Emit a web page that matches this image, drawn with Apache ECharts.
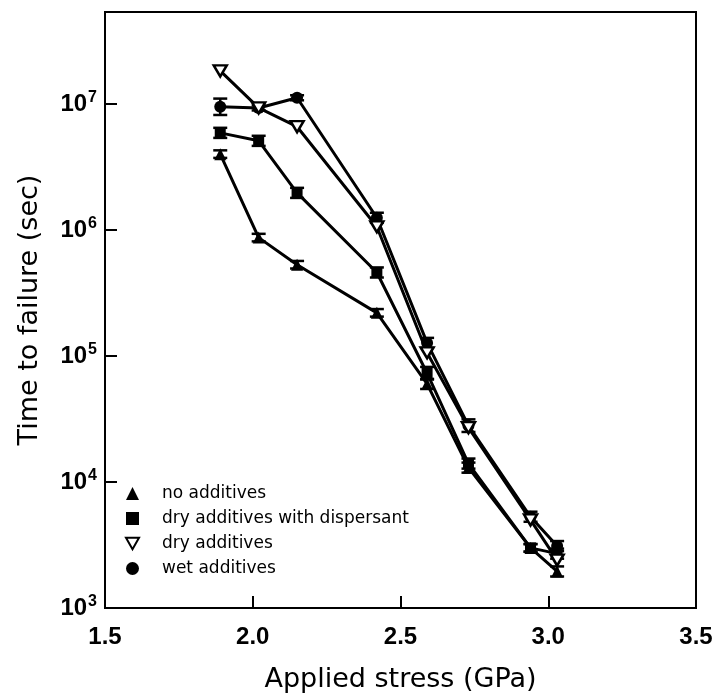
<!DOCTYPE html>
<html>
<head>
<meta charset="utf-8">
<title>Time to failure vs applied stress</title>
<script src="https://cdn.jsdelivr.net/npm/echarts@6/dist/echarts.min.js"></script>
<style>
    html, body { margin: 0; padding: 0; background: #fff; }
    #chart { width: 713px; height: 698px; }
</style>
</head>
<body>
<div id="chart"></div>
<script>
// 外加应力 (GPa)
var stress = [1.89, 2.02, 2.15, 2.42, 2.59, 2.73, 2.94, 3.03];

// 失效时间 (sec)
var noAdditives = [4.0e6, 8.7e5, 5.3e5, 2.2e5, 6.0e4, 1.3e4, 3.0e3, 1.95e3];
var dryDispersant = [5.9e6, 5.1e6, 1.97e6, 4.6e5, 7.3e4, 1.4e4, 3.0e3, 2.7e3];
var dryAdditives = [1.83e7, 9.3e6, 6.6e6, 1.06e6, 1.06e5, 2.7e4, 5.0e3, 2.4e3];
var wetAdditives = [9.5e6, 9.3e6, 1.12e7, 1.25e6, 1.27e5, 2.8e4, 5.3e3, 3.1e3];

// 误差棒半宽（log10 单位）
var noAdditivesErr = [0.03, 0.03, 0.03, 0.03, 0.04, 0.04, 0.03, 0.04];
var dryDispersantErr = [0.04, 0.04, 0.04, 0.04, 0.05, 0.04, 0.03, 0.04];
var dryAdditivesErr = [0, 0, 0, 0, 0, 0, 0, 0];
var wetAdditivesErr = [0.065, 0.02, 0.02, 0.04, 0.04, 0.05, 0.04, 0.04];

// y轴刻度（10的幂次）
var yExponents = [3, 4, 5, 6, 7];
var xTicks = ["1.5", "2.0", "2.5", "3.0", "3.5"];

var seriesNames = ["no additives", "dry additives with dispersant", "dry additives", "wet additives"];

var invTriangle = "path://M0,0 L12,0 L6,10.4 Z";
var wideFont = "DejaVu Sans";
var tickFont = "Liberation Sans";

// 转为 log10 坐标
function toLogPairs(values) {
    var out = [];
    for (var i = 0; i < values.length; i++) {
        out.push([stress[i], Math.log(values[i]) / Math.LN10]);
    }
    return out;
}

function toErrRows(values, errs) {
    var out = [];
    for (var i = 0; i < values.length; i++) {
        var ly = Math.log(values[i]) / Math.LN10;
        out.push([stress[i], ly - errs[i], ly + errs[i]]);
    }
    return out;
}

// 画误差棒（竖线 + 上下横帽）
function renderErr(params, api) {
    var lo = api.coord([api.value(0), api.value(1)]);
    var hi = api.coord([api.value(0), api.value(2)]);
    if (Math.abs(lo[1] - hi[1]) < 1) {
        return null;
    }
    var w = 7;
    var style = { stroke: "#000", lineWidth: 2.5 };
    return {
        type: "group",
        children: [
            { type: "line", shape: { x1: lo[0], y1: lo[1], x2: hi[0], y2: hi[1] }, style: style },
            { type: "line", shape: { x1: lo[0] - w, y1: lo[1], x2: lo[0] + w, y2: lo[1] }, style: style },
            { type: "line", shape: { x1: hi[0] - w, y1: hi[1], x2: hi[0] + w, y2: hi[1] }, style: style }
        ]
    };
}

function lineSeries(name, values, symbol, size, hollow) {
    return {
        name: name,
        type: "line",
        data: toLogPairs(values),
        symbol: symbol,
        symbolSize: size,
        showAllSymbol: true,
        lineStyle: { color: "#000", width: 3 },
        itemStyle: hollow ? { color: "#fff", borderColor: "#000", borderWidth: 2.5 } : { color: "#000", borderWidth: 0 },
        z: hollow ? 4 : 3,
        animation: false
    };
}

function errSeries(values, errs) {
    return {
        type: "custom",
        renderItem: renderErr,
        data: toErrRows(values, errs),
        encode: { x: 0, y: [1, 2] },
        z: 2,
        silent: true,
        animation: false
    };
}

var myChart = echarts.init(document.getElementById("chart"));

var option = {
    backgroundColor: "#fff",
    animation: false,
    textStyle: { fontFamily: tickFont, color: "#000" },
    grid: {
        left: 105, right: 17, top: 12, bottom: 90,
        outerBoundsMode: "none",
        containLabel: false,
        show: true, borderColor: "#000", borderWidth: 2, backgroundColor: "transparent"
    },
    legend: {
        orient: "vertical",
        left: 120,
        top: 480,
        itemWidth: 13,
        itemHeight: 13,
        itemGap: 8,
        textStyle: { fontSize: 17, fontFamily: wideFont, color: "#000", padding: [0, 0, 0, 18] },
        data: [
            { name: seriesNames[0], icon: "triangle" },
            { name: seriesNames[1], icon: "rect" },
            { name: seriesNames[2], icon: invTriangle },
            { name: seriesNames[3], icon: "circle" }
        ]
    },
    xAxis: {
        type: "value",
        min: 1.5,
        max: 3.5,
        interval: 0.5,
        name: "Applied stress (GPa)",
        nameLocation: "middle",
        nameGap: 58,
        nameTextStyle: { fontSize: 27, fontFamily: wideFont, color: "#000" },
        axisLine: { lineStyle: { color: "#000", width: 2 } },
        axisTick: { inside: true, length: 12, lineStyle: { color: "#000", width: 2 } },
        axisLabel: {
            fontSize: 24, fontWeight: "bold", fontFamily: tickFont, color: "#000", margin: 17,
            formatter: function (v) {
                var idx = Math.round((v - 1.5) / 0.5);
                return xTicks[idx] || "";
            }
        },
        splitLine: { show: false }
    },
    yAxis: {
        type: "value",
        min: 3,
        max: 7.73,
        interval: 1,
        name: "Time to failure (sec)",
        nameLocation: "middle",
        nameGap: 62,
        nameTextStyle: { fontSize: 27, fontFamily: wideFont, color: "#000" },
        axisLine: { lineStyle: { color: "#000", width: 2 } },
        axisTick: { inside: true, length: 12, lineStyle: { color: "#000", width: 2 } },
        axisLabel: {
            margin: 8,
            fontFamily: tickFont,
            formatter: function (v) {
                if (yExponents.indexOf(v) == -1) {
                    return "";
                }
                return "{b|10}{s|" + v + "}";
            },
            rich: {
                b: { fontSize: 24, fontWeight: "bold", fontFamily: tickFont, color: "#000" },
                s: { fontSize: 16, fontWeight: "bold", fontFamily: tickFont, color: "#000", padding: [0, 0, 12, 1] }
            }
        },
        splitLine: { show: false }
    },
    series: [
        errSeries(noAdditives, noAdditivesErr),
        errSeries(dryDispersant, dryDispersantErr),
        errSeries(dryAdditives, dryAdditivesErr),
        errSeries(wetAdditives, wetAdditivesErr),
        lineSeries(seriesNames[0], noAdditives, "triangle", 12, false),
        lineSeries(seriesNames[1], dryDispersant, "rect", 11, false),
        lineSeries(seriesNames[2], dryAdditives, invTriangle, [13, 11], true),
        lineSeries(seriesNames[3], wetAdditives, "circle", 12, false)
    ]
};

myChart.setOption(option);
</script>
</body>
</html>
